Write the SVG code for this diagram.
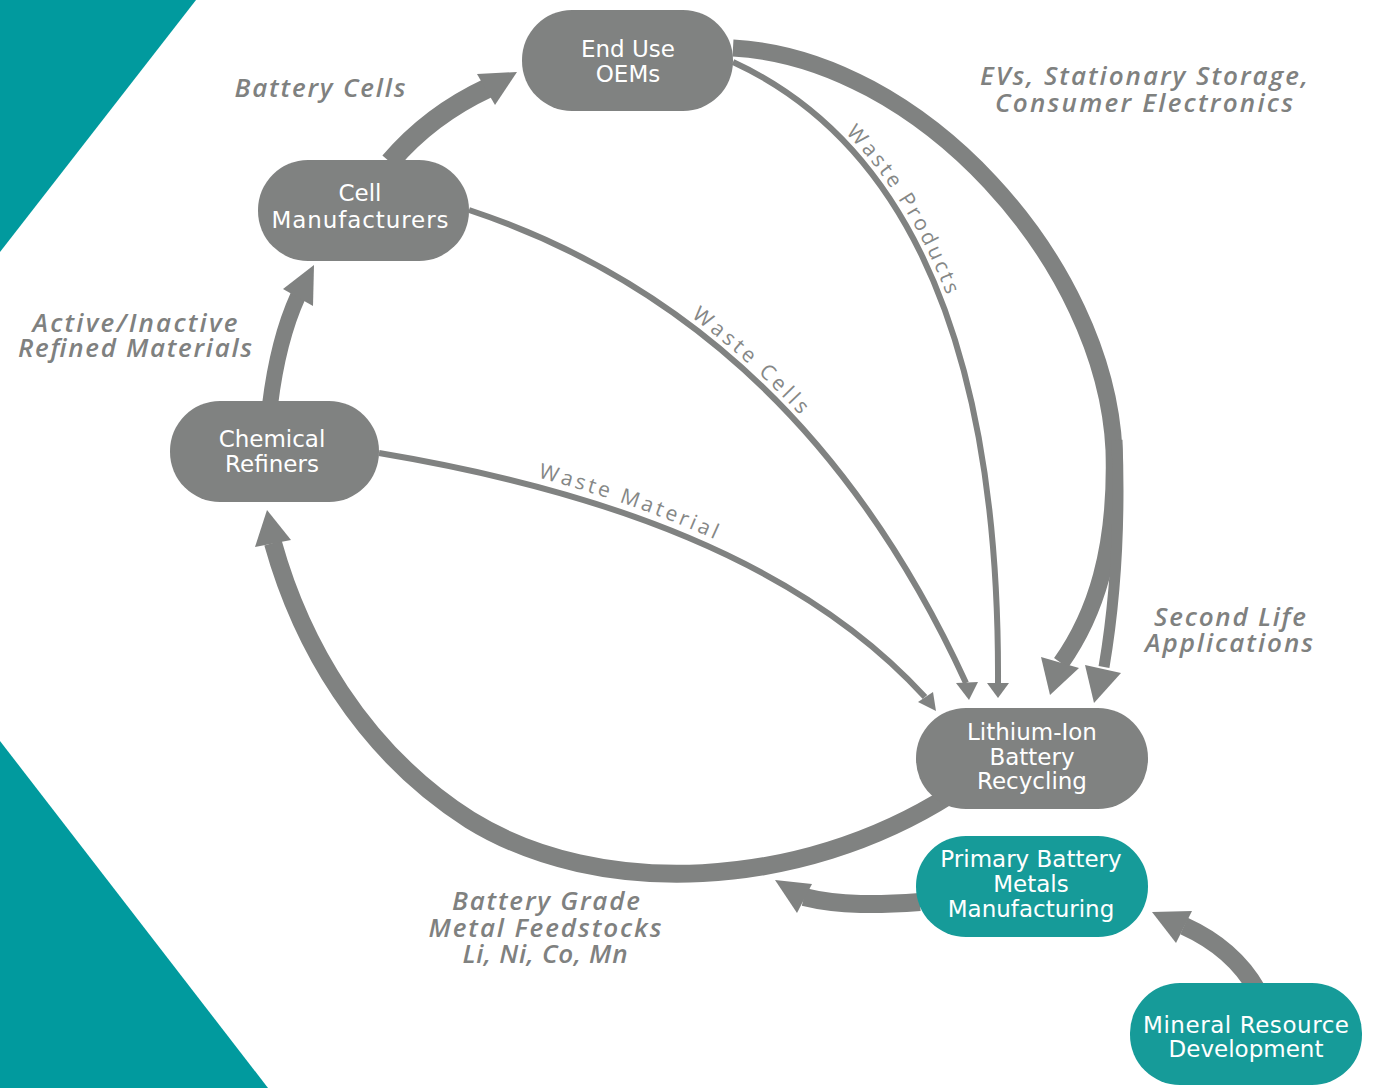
<svg xmlns="http://www.w3.org/2000/svg" xmlns:xlink="http://www.w3.org/1999/xlink" width="1375" height="1088" viewBox="0 0 1375 1088">
<style>
.bg{fill:#019a9e}
.gnode{fill:#808281}
.tnode{fill:#169b99}
.ntext{font-family:"DejaVu Sans","Noto Sans",sans-serif;font-size:23px;fill:#ffffff;text-anchor:middle}
.lbl{font-family:"Open Sans","Liberation Sans",sans-serif;font-style:italic;font-weight:600;font-size:26px;fill:#7f8180;text-anchor:middle}
.wlbl{font-family:"Open Sans","Liberation Sans",sans-serif;font-weight:400;font-size:21px;fill:#858786}
.c{fill:none;stroke:#808281}
.thin{stroke-width:6}
.head{fill:#808281}
</style>
<rect width="1375" height="1088" fill="#ffffff"/>
<polygon class="bg" points="0,0 196,0 0,252"/>
<polygon class="bg" points="0,741 268,1088 0,1088"/>

<g id="connectors">
  <path id="p-cells" class="c" stroke-width="20" d="M 390,162 Q 430,115 488,88"/>
  <polygon class="head" points="517,72 477,74 495,105"/>
  <path id="p-active" class="c" stroke-width="16" d="M 270,405 Q 278,340 298,296"/>
  <polygon class="head" points="314,265 283,289 313,306"/>
  <path id="p-evs" class="c" stroke-width="17" d="M 733,48 C 920,58 1105,262 1114,450 C 1117,550 1095,615 1061,663"/>
  <polygon class="head" points="1050,695 1041,657 1079,668"/>
  <path id="p-second" class="c" stroke-width="11" d="M 1117,440 C 1121,545 1112,620 1104,667"/>
  <polygon class="head" points="1094,703 1085,665 1121,673"/>
  <path id="p-wprod" class="c thin" d="M 733,62 C 880,130 1000,300 998,684"/>
  <polygon class="head" points="998,698 987,683 1009,683"/>
  <path id="p-wcells" class="c thin" d="M 469,210 C 680,280 850,430 966,683"/>
  <polygon class="head" points="969,700 956,683 978,682"/>
  <path id="p-wmat" class="c thin" d="M 379,453 C 600,490 800,560 925,697"/>
  <polygon class="head" points="936,711 918,702 933,692"/>
  <path id="p-grade" class="c" stroke-width="18" d="M 950,795 C 800,890 600,900 470,820 C 360,750 300,640 273,543"/>
  <polygon class="head" points="267,510 255,547 291,540"/>
  <path id="p-primary" class="c" stroke-width="18" d="M 920,902 C 880,905 840,906 804,897"/>
  <polygon class="head" points="775,880 797,913 812,884"/>
  <path id="p-mineral" class="c" stroke-width="18" d="M 1257,990 C 1240,960 1215,940 1184,926"/>
  <polygon class="head" points="1152,912 1192,911 1176,943"/>

  <text class="wlbl" dy="-7"><textPath xlink:href="#p-wprod" href="#p-wprod" startOffset="132" textLength="190" lengthAdjust="spacing">Waste Products</textPath></text>
  <text class="wlbl" dy="-7"><textPath xlink:href="#p-wcells" href="#p-wcells" startOffset="246" textLength="146" lengthAdjust="spacing">Waste Cells</textPath></text>
  <text class="wlbl" dy="-9"><textPath xlink:href="#p-wmat" href="#p-wmat" startOffset="160" textLength="186" lengthAdjust="spacing">Waste Material</textPath></text>
</g>

<g id="labels">
  <text class="lbl" x="320" y="97" textLength="171">Battery Cells</text>
  <text class="lbl" x="1144" y="85" textLength="328">EVs, Stationary Storage,</text>
  <text class="lbl" x="1144" y="112" textLength="298">Consumer Electronics</text>
  <text class="lbl" x="135" y="332" textLength="205">Active/Inactive</text>
  <text class="lbl" x="135" y="357" textLength="234">Refined Materials</text>
  <text class="lbl" x="1230" y="626" textLength="152">Second Life</text>
  <text class="lbl" x="1229" y="652" textLength="168">Applications</text>
  <text class="lbl" x="546" y="910" textLength="188">Battery Grade</text>
  <text class="lbl" x="545" y="937" textLength="233">Metal Feedstocks</text>
  <text class="lbl" x="545" y="963" textLength="165">Li, Ni, Co, Mn</text>
</g>

<g id="node-oems">
  <rect class="gnode" x="522" y="10" width="211" height="101" rx="50"/>
  <text class="ntext" x="628" y="57">End Use</text>
  <text class="ntext" x="628" y="82">OEMs</text>
</g>
<g id="node-cell">
  <rect class="gnode" x="258" y="160" width="211" height="101" rx="50"/>
  <text class="ntext" x="360" y="201">Cell</text>
  <text class="ntext" x="360" y="228" textLength="177">Manufacturers</text>
</g>
<g id="node-chem">
  <rect class="gnode" x="170" y="401" width="209" height="101" rx="50"/>
  <text class="ntext" x="272" y="447">Chemical</text>
  <text class="ntext" x="272" y="472">Refiners</text>
</g>
<g id="node-recycling">
  <rect class="gnode" x="916" y="708" width="232" height="101" rx="50"/>
  <text class="ntext" x="1032" y="740">Lithium-Ion</text>
  <text class="ntext" x="1032" y="765">Battery</text>
  <text class="ntext" x="1032" y="789">Recycling</text>
</g>
<g id="node-primary">
  <rect class="tnode" x="916" y="836" width="232" height="101" rx="50"/>
  <text class="ntext" x="1031" y="867">Primary Battery</text>
  <text class="ntext" x="1031" y="892">Metals</text>
  <text class="ntext" x="1031" y="917">Manufacturing</text>
</g>
<g id="node-mineral">
  <rect class="tnode" x="1130" y="983" width="232" height="102" rx="50"/>
  <text class="ntext" x="1246" y="1033" textLength="206">Mineral Resource</text>
  <text class="ntext" x="1246" y="1057">Development</text>
</g>
</svg>
